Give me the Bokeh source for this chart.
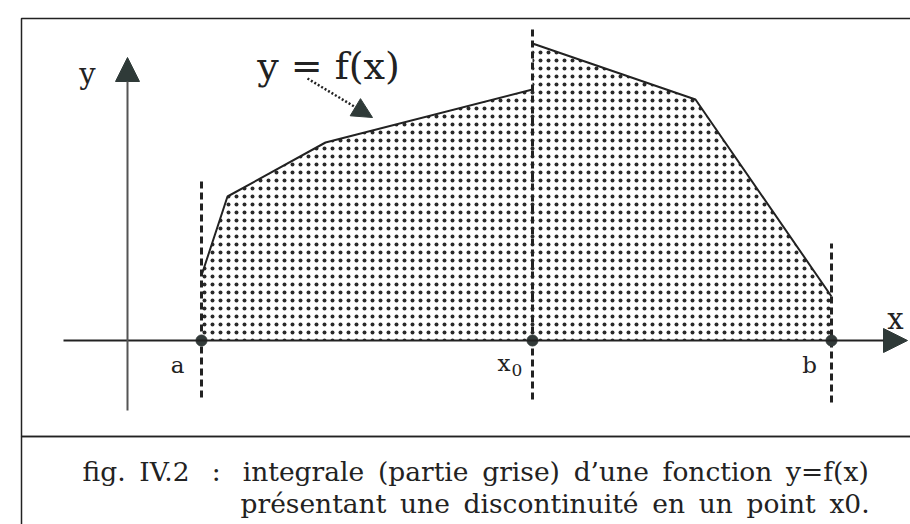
from bokeh.plotting import figure
from bokeh.models import Range1d, Arrow, NormalHead
from bokeh.core.properties import value
from bokeh.embed import file_html
from bokeh.resources import INLINE

# ---- data (abstract units, origin at the axes crossing) ----
x_a, x_0, x_b = 7.4, 40.5, 70.4
left_x = [7.4, 10.0, 19.8, 40.5]      # f on [a, x0)
left_y = [6.5, 14.4, 19.8, 25.1]
right_x = [40.5, 56.8, 70.4]          # f on [x0, b]
right_y = [29.7, 24.1, 4.4]
mark_x = [x_a, x_0, x_b]
guide_top = [16.2, 31.5, 9.7]
guide_bottom = [-5.7, -5.9, -6.2]

G = " \u2009"   # word gap
caption1 = G.join(["fig.", "IV.2\u00a0", ":\u00a0", "integrale", "(partie", "grise)",
                   "d\u2019une", "fonction", "y=f(x)"])
caption2 = G.join(["pr\u00e9sentant", "une", "discontinuit\u00e9", "en", "un", "point", "x0."])

INK = "#222222"
HEAD = "#2f3a38"
SERIF = value("DejaVu Serif")

p = figure(width=910, height=524, output_backend="svg", toolbar_location=None,
           x_range=Range1d(-12.7, 78.3), y_range=Range1d(-18.4, 34.0),
           min_border=0, outline_line_color=None)
p.axis.visible = False
p.grid.visible = False
p.background_fill_color = "white"
p.border_fill_color = "white"

# frames (right edge lies outside the picture)
p.quad(left=-10.6, right=95, top=32.2, bottom=-9.6, fill_alpha=0,
       line_color=INK, line_width=1.5)
p.quad(left=-10.6, right=95, top=-9.6, bottom=-40, fill_alpha=0,
       line_color=INK, line_width=1.5)

# shaded (dotted) area under the curve
poly_x = [x_a] + left_x + right_x + [x_b]
poly_y = [0] + left_y + right_y + [0]
p.patch(poly_x, poly_y, fill_color="white", line_color=None,
        hatch_pattern="dot", hatch_color="#2a2a2a", hatch_scale=8, hatch_weight=2)

# curve
p.line(left_x, left_y, line_color=INK, line_width=2)
p.line(right_x, right_y, line_color=INK, line_width=2)

# axes with arrows
p.add_layout(Arrow(end=NormalHead(size=24, fill_color=HEAD, line_color=HEAD),
                   x_start=-6.4, y_start=0, x_end=78.0, y_end=0,
                   line_color=INK, line_width=1.8))
p.add_layout(Arrow(end=NormalHead(size=24, fill_color=HEAD, line_color=HEAD),
                   x_start=0, y_start=-7.0, x_end=0, y_end=28.3,
                   line_color="#555555", line_width=2))

# dashed guides
p.segment(x0=mark_x, y0=guide_bottom, x1=mark_x, y1=guide_top,
          line_color=INK, line_width=3, line_dash="7 4")

# points on axis
p.scatter(mark_x, [0, 0, 0], size=11, fill_color="#333b3a", line_color="#333b3a")

# dotted arrow to curve
p.add_layout(Arrow(end=NormalHead(size=20, fill_color=HEAD, line_color=HEAD),
                   x_start=18.0, y_start=26.2, x_end=24.5, y_end=22.3,
                   line_color=INK, line_width=2.5, line_dash="2 2"))

# labels
p.text([5.0, 68.2], [-2.4, -2.4], text=["a", "b"], text_font=SERIF,
       text_font_size="23px", text_align="center", text_baseline="alphabetic", text_color=INK)
p.text([37.0], [-2.2], text=["x"], text_font=SERIF, text_font_size="23px",
       text_align="left", text_baseline="alphabetic", text_color=INK)
p.text([38.4], [-2.9], text=["0"], text_font=SERIF, text_font_size="17px",
       text_align="left", text_baseline="alphabetic", text_color=INK)
p.text([-4.0], [26.7], text=["y"], text_font=SERIF, text_font_size="29px",
       text_align="center", text_baseline="alphabetic", text_color=INK)
p.text([76.8], [2.2], text=["x"], text_font=SERIF, text_font_size="29px",
       text_align="center", text_baseline="alphabetic", text_color=INK)
p.text([20.1], [27.5], text=["y = f(x)"], text_font=SERIF, text_font_size="38px",
       text_align="center", text_baseline="alphabetic", text_color=INK)
p.text([-4.5], [-13.1], text=[caption1], text_font=SERIF, text_font_size="26.5px",
       text_align="left", text_baseline="alphabetic", text_color=INK)
p.text([11.3], [-16.3], text=[caption2], text_font=SERIF, text_font_size="26.5px",
       text_align="left", text_baseline="alphabetic", text_color=INK)

open("out.html", "w").write(file_html(p, INLINE))
